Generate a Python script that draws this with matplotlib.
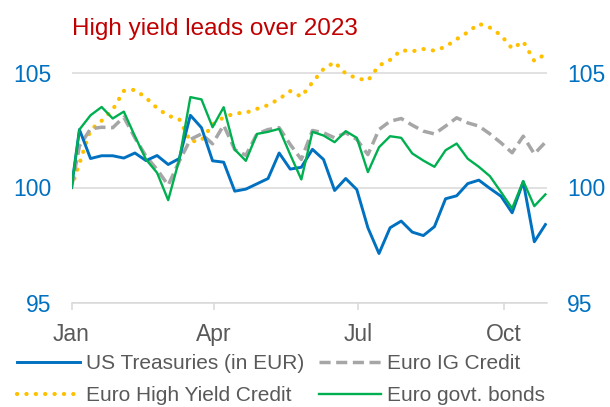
import matplotlib
matplotlib.use("Agg")
import matplotlib.pyplot as plt
import matplotlib.dates as mdates
import pandas as pd

plt.rcParams["font.family"] = ["Liberation Sans", "DejaVu Sans"]

# first point is Jan 1, then weekly Fridays
dates = [pd.Timestamp("2023-01-01")] + list(pd.date_range("2023-01-06", periods=43, freq="7D"))

us_treasuries = [100, 102.52, 101.26, 101.38, 101.38, 101.28, 101.5, 101.17, 101.39, 101.0, 101.26,
                 103.14, 102.6, 101.16, 101.1, 99.84, 99.93, 100.16, 100.39, 101.5, 100.8, 100.88,
                 101.66, 101.22, 99.87, 100.39, 99.91, 98.25, 97.13, 98.25, 98.54, 98.06, 97.91,
                 98.3, 99.51, 99.64, 100.17, 100.32, 99.96, 99.62, 98.9, 100.25, 97.64, 98.39]
euro_ig = [100, 101.8, 102.55, 102.62, 102.6, 103.06, 102.16, 101.36, 100.78, 100.1, 101.14,
           102.09, 102.33, 101.9, 102.71, 101.65, 101.4, 102.33, 102.52, 102.6, 101.87, 101.22,
           102.48, 102.38, 102.16, 102.38, 102.09, 101.43, 102.52, 102.88, 103.0, 102.71, 102.45,
           102.33, 102.67, 103.03, 102.81, 102.67, 102.33, 101.94, 101.51, 102.23, 101.46, 101.97]
euro_hy = [100, 101.05, 102.5, 102.9, 103.38, 104.2, 104.25, 103.9, 103.45, 103.12, 102.97,
           102.0, 102.05, 102.74, 103.05, 103.22, 103.25, 103.42, 103.58, 103.85, 104.19, 103.95,
           104.57, 105.15, 105.45, 104.95, 104.75, 104.65, 105.3, 105.55, 105.97, 105.92, 106.02,
           105.95, 106.12, 106.45, 106.75, 107.12, 106.95, 106.62, 106.04, 106.35, 105.5, 105.8]
euro_govt = [100, 102.52, 103.14, 103.5, 103.0, 103.3, 102.23, 101.22, 100.64, 99.45, 101.22,
             103.93, 103.83, 102.62, 103.49, 101.65, 101.16, 102.33, 102.42, 102.55, 101.43, 100.35,
             102.42, 102.26, 101.97, 102.45, 102.16, 100.67, 101.75, 102.23, 102.16, 101.48, 101.17,
             100.9, 101.62, 101.91, 101.25, 100.9, 100.49, 99.8, 99.09, 100.28, 99.19, 99.7]

fig = plt.figure(figsize=(6.1, 4.07), dpi=100)
ax = fig.add_axes([71.5 / 610, (407 - 302.5) / 407, (547 - 71.5) / 610, 299 / 407])

l_hy, = ax.plot(dates, euro_hy, color="#FFC000", lw=3.0, linestyle=(0, (0.05, 2.2)),
                dash_capstyle="round", label="Euro High Yield Credit")
l_ig, = ax.plot(dates, euro_ig, color="#A6A6A6", lw=2.5, linestyle=(0, (3.2, 1.6)),
                label="Euro IG Credit")
l_us, = ax.plot(dates, us_treasuries, color="#0070C0", lw=2.1, label="US Treasuries (in EUR)")
l_gv, = ax.plot(dates, euro_govt, color="#00B050", lw=1.7, label="Euro govt. bonds")

ax.set_ylim(95, 108)
ax.set_xlim(pd.Timestamp("2023-01-01"), pd.Timestamp("2023-01-01") + pd.Timedelta(days=300))
ax.set_yticks([95, 100, 105])
ax.grid(axis="y", color="#D9D9D9", lw=1.1)
ax.set_axisbelow(True)

for s in ["top", "left", "right"]:
    ax.spines[s].set_visible(False)
ax.spines["bottom"].set_color("#D9D9D9")
ax.spines["bottom"].set_linewidth(1.1)

ax.xaxis.set_major_locator(mdates.MonthLocator(bymonth=[1, 4, 7, 10]))
ax.xaxis.set_major_formatter(mdates.DateFormatter("%b"))
ax.tick_params(axis="x", length=5, width=1.1, color="#D9D9D9", labelcolor="#595959",
               labelsize=16.5, pad=10)
ax.tick_params(axis="y", length=0, labelleft=True, labelright=True, labelcolor="#0070C0",
               labelsize=16.5, pad=14.5)

fig.text(71.5 / 610, 1 - 35 / 407, "High yield leads over 2023", color="#C00000",
         fontsize=17.5, va="baseline")

ax.legend([l_us, l_hy, l_ig, l_gv],
          [l.get_label() for l in [l_us, l_hy, l_ig, l_gv]],
          ncol=2, loc="upper left", bbox_to_anchor=(17 / 610, 1 - 354 / 407),
          bbox_transform=fig.transFigure, frameon=False, handlelength=3.0,
          handletextpad=0.3, columnspacing=0.7, borderpad=0, borderaxespad=0,
          labelspacing=0.64, fontsize=15, labelcolor="#595959")

fig.savefig("out.png", dpi=100)
